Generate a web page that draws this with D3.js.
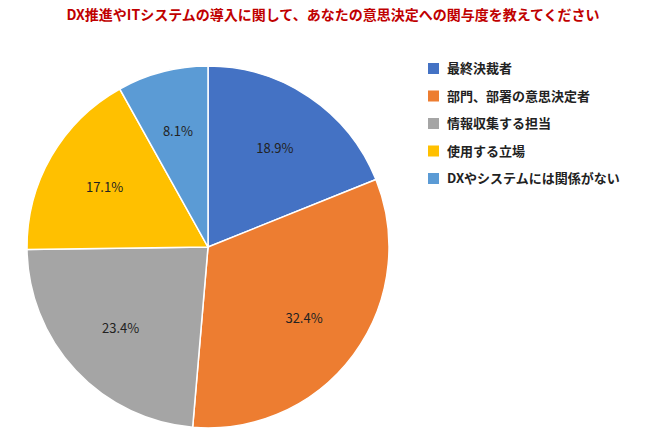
<!DOCTYPE html>
<html><head><meta charset="utf-8">
<script src="https://cdn.jsdelivr.net/npm/d3@7"></script>
<style>body{margin:0;background:#fff}text{font-family:"Noto Sans CJK JP","Noto Sans",sans-serif}</style>
</head><body>
<svg id="chart" width="670" height="436"></svg>
<script>
// 回答カテゴリと割合
var categories = ["最終決裁者", "部門、部署の意思決定者", "情報収集する担当", "使用する立場", "DXやシステムには関係がない"];
var values = [18.9, 32.4, 23.4, 17.1, 8.1];
var colors = ["#4472C4", "#ED7D31", "#A5A5A5", "#FFC000", "#5B9BD5"];

var svg = d3.select("#chart");
svg.append("text").attr("x", 333).attr("y", 20).attr("text-anchor", "middle")
  .attr("fill", "#C00000").attr("font-size", 14).attr("font-weight", "bold")
  .text("DX推進やITシステムの導入に関して、あなたの意思決定への関与度を教えてください");

var r = 181;
var g = svg.append("g").attr("transform", "translate(208,247)");
var pie = d3.pie().sort(null);
var arc = d3.arc().innerRadius(0).outerRadius(r);
var labelArc = d3.arc().innerRadius(r * 0.66).outerRadius(r * 0.66);

var slices = g.selectAll("g").data(pie(values)).enter().append("g");
slices.append("path").attr("d", arc)
  .attr("fill", function (d, i) { return colors[i]; })
  .attr("stroke", "#fff").attr("stroke-width", 1.5);
slices.append("text")
  .attr("transform", function (d) { return "translate(" + labelArc.centroid(d) + ")"; })
  .attr("text-anchor", "middle").attr("dy", "0.35em")
  .attr("font-size", 13).attr("fill", "#222")
  .text(function (d) { return d.data.toFixed(1) + "%"; });

// 凡例
var legend = svg.selectAll(".lg").data(categories).enter().append("g")
  .attr("transform", function (d, i) { return "translate(428," + (63 + i * 27.5) + ")"; });
legend.append("rect").attr("width", 11).attr("height", 11)
  .attr("fill", function (d, i) { return colors[i]; });
legend.append("text").attr("x", 19).attr("y", 10).attr("font-size", 13)
  .attr("font-weight", "bold").attr("fill", "#222").text(function (d) { return d; });
</script>
</body></html>
